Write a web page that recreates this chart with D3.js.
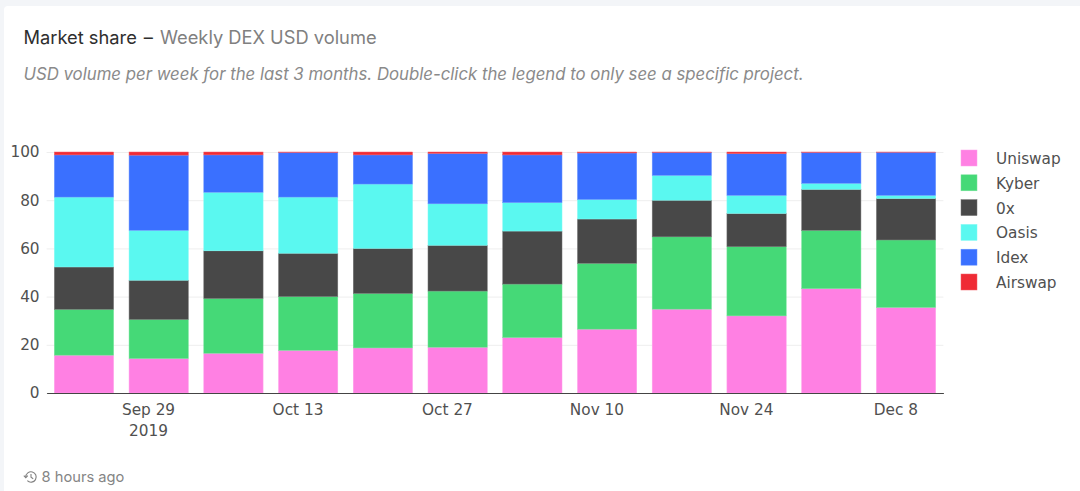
<!DOCTYPE html>
<html>
<head>
<meta charset="utf-8">
<script src="https://cdn.jsdelivr.net/npm/d3@7"></script>
<style>
    html, body { margin: 0; padding: 0; background: #f3f5f8; overflow: hidden; }
    svg { display: block; }
    .head { font-family: Inter, sans-serif; }
    .tick text, .legend text { font-family: "DejaVu Sans", sans-serif; font-size: 15.3px; fill: #505050; }
</style>
</head>
<body>
<svg id="chart"></svg>
<script>
const weeks = ["2019-09-23", "2019-09-30", "2019-10-07", "2019-10-14", "2019-10-21", "2019-10-28",
    "2019-11-04", "2019-11-11", "2019-11-18", "2019-11-25", "2019-12-02", "2019-12-09"];
const projects = ["Uniswap", "Kyber", "0x", "Oasis", "Idex", "Airswap"];
const uniswap = [15.7, 14.3, 16.5, 17.7, 18.7, 19.0, 23.0, 26.5, 34.8, 32.0, 43.3, 35.5];
const kyber = [19.0, 16.2, 22.7, 22.3, 22.6, 23.3, 22.2, 27.3, 30.0, 28.7, 24.2, 28.0];
const zeroX = [17.6, 16.3, 19.8, 18.0, 18.7, 19.0, 22.0, 18.4, 15.2, 13.8, 17.0, 17.2];
const oasis = [29.0, 20.7, 24.3, 23.3, 26.7, 17.2, 11.8, 8.1, 10.3, 7.5, 2.5, 1.3];
const idex = [17.5, 31.2, 15.5, 18.5, 12.1, 20.9, 19.8, 19.3, 9.5, 17.3, 12.8, 17.9];
const airswap = [1.2, 1.3, 1.2, 0.2, 1.2, 0.6, 1.2, 0.4, 0.2, 0.7, 0.2, 0.1];
const yTicks = [0, 20, 40, 60, 80, 100];
const xTicks = ["2019-09-29", "2019-10-13", "2019-10-27", "2019-11-10", "2019-11-24", "2019-12-08"];
const colors = ["#ff80e3", "#45d977", "#484848", "#5af8f0", "#3a70ff", "#ef2b35"];

const width = 1080, height = 491;
const margin = { top: 152, left: 46.6, right: 943.4, bottom: 393 };
const parseDay = d3.utcParse("%Y-%m-%d");
const day = 86400000;

const rows = weeks.map((w, i) => ({
    date: parseDay(w),
    Uniswap: uniswap[i], Kyber: kyber[i], "0x": zeroX[i],
    Oasis: oasis[i], Idex: idex[i], Airswap: airswap[i]
}));

const svg = d3.select("#chart").attr("width", width).attr("height", height);

// white card on the grey page
svg.append("rect")
    .attr("x", 4).attr("y", 6)
    .attr("width", width).attr("height", height)
    .attr("rx", 4)
    .attr("fill", "#fff");

const title = svg.append("text")
    .attr("class", "head")
    .attr("x", 23.5).attr("y", 44)
    .attr("font-size", 18.3);
title.append("tspan").attr("fill", "#2e2e2e").text("Market share");
title.append("tspan").attr("fill", "#2e2e2e").attr("dx", 7).text("–");
title.append("tspan").attr("fill", "#808080").attr("dx", 7).text("Weekly DEX USD volume");

svg.append("text")
    .attr("class", "head")
    .attr("x", 23.5).attr("y", 80)
    .attr("font-size", 16.77)
    .attr("font-style", "italic")
    .attr("fill", "#8a8a8a")
    .text("USD volume per week for the last 3 months. Double-click the legend to only see a specific project.");

const xScale = d3.scaleUtc()
    .domain([d3.timeMillisecond.offset(parseDay(weeks[0]), -3.5 * day),
             d3.timeMillisecond.offset(parseDay(weeks[weeks.length - 1]), 3.5 * day)])
    .range([margin.left, margin.right]);
const yScale = d3.scaleLinear().domain([0, 100]).range([margin.bottom, margin.top]);
const barWidth = xScale(parseDay(weeks[1])) - xScale(parseDay(weeks[0]));

const yAxis = svg.append("g")
    .attr("transform", `translate(${margin.left}, 0)`)
    .call(d3.axisLeft(yScale)
        .tickValues(yTicks)
        .tickSize(-(margin.right - margin.left))
        .tickPadding(7));
yAxis.select(".domain").remove();
yAxis.selectAll("line").attr("stroke", "#eeeeee");

const stack = d3.stack().keys(projects);
const layers = svg.append("g")
    .selectAll("g")
    .data(stack(rows))
    .join("g")
    .attr("fill", (d, i) => colors[i])
    .attr("stroke", (d, i) => d3.interpolateRgb(colors[i], "#fff")(0.25));

layers.selectAll("rect")
    .data(d => d)
    .join("rect")
    .attr("x", d => xScale(d.data.date) - barWidth * 0.4 + 0.25)
    .attr("width", barWidth * 0.8 - 0.5)
    .attr("y", d => yScale(d[1]))
    .attr("height", d => yScale(d[0]) - yScale(d[1]))
    .attr("stroke-width", 0.5);

const xAxis = svg.append("g")
    .attr("transform", `translate(0, ${margin.bottom})`)
    .call(d3.axisBottom(xScale)
        .tickValues(xTicks.map(parseDay))
        .tickSize(0)
        .tickPadding(11)
        .tickFormat(d3.utcFormat("%b %-d")));
xAxis.select(".domain").attr("stroke", "#444").attr("stroke-width", 1.2);
xAxis.select(".tick text")
    .append("tspan")
    .attr("x", 0).attr("dy", "1.35em")
    .text("2019");

// legend
const legend = svg.append("g").attr("class", "legend")
    .selectAll("g")
    .data(projects)
    .join("g")
    .attr("transform", (d, i) => `translate(961, ${150 + i * 24.8})`);
legend.append("rect")
    .attr("width", 16).attr("height", 16)
    .attr("fill", (d, i) => colors[i])
    .attr("stroke", (d, i) => d3.interpolateRgb(colors[i], "#fff")(0.25))
    .attr("stroke-width", 0.5);
legend.append("text")
    .attr("x", 35).attr("y", 14)
    .text(d => d);

// history icon + timestamp
const clock = svg.append("g")
    .attr("transform", "translate(31, 477)")
    .attr("fill", "none")
    .attr("stroke", "#808080")
    .attr("stroke-width", 1.1);
clock.append("path").attr("d", d3.arc()({
    innerRadius: 5.2, outerRadius: 5.2,
    startAngle: -Math.PI * 0.5, endAngle: Math.PI * 1.25
}));
clock.append("path").attr("d", "M-7.2 -1.4 L-5.2 0.6 L-3.2 -1.4");
clock.append("path").attr("d", "M0 -3 V0.3 L2.2 1.8");

svg.append("text")
    .attr("class", "head")
    .attr("x", 41.5).attr("y", 482)
    .attr("font-size", 14.7)
    .attr("fill", "#858585")
    .text("8 hours ago");
</script>
</body>
</html>
